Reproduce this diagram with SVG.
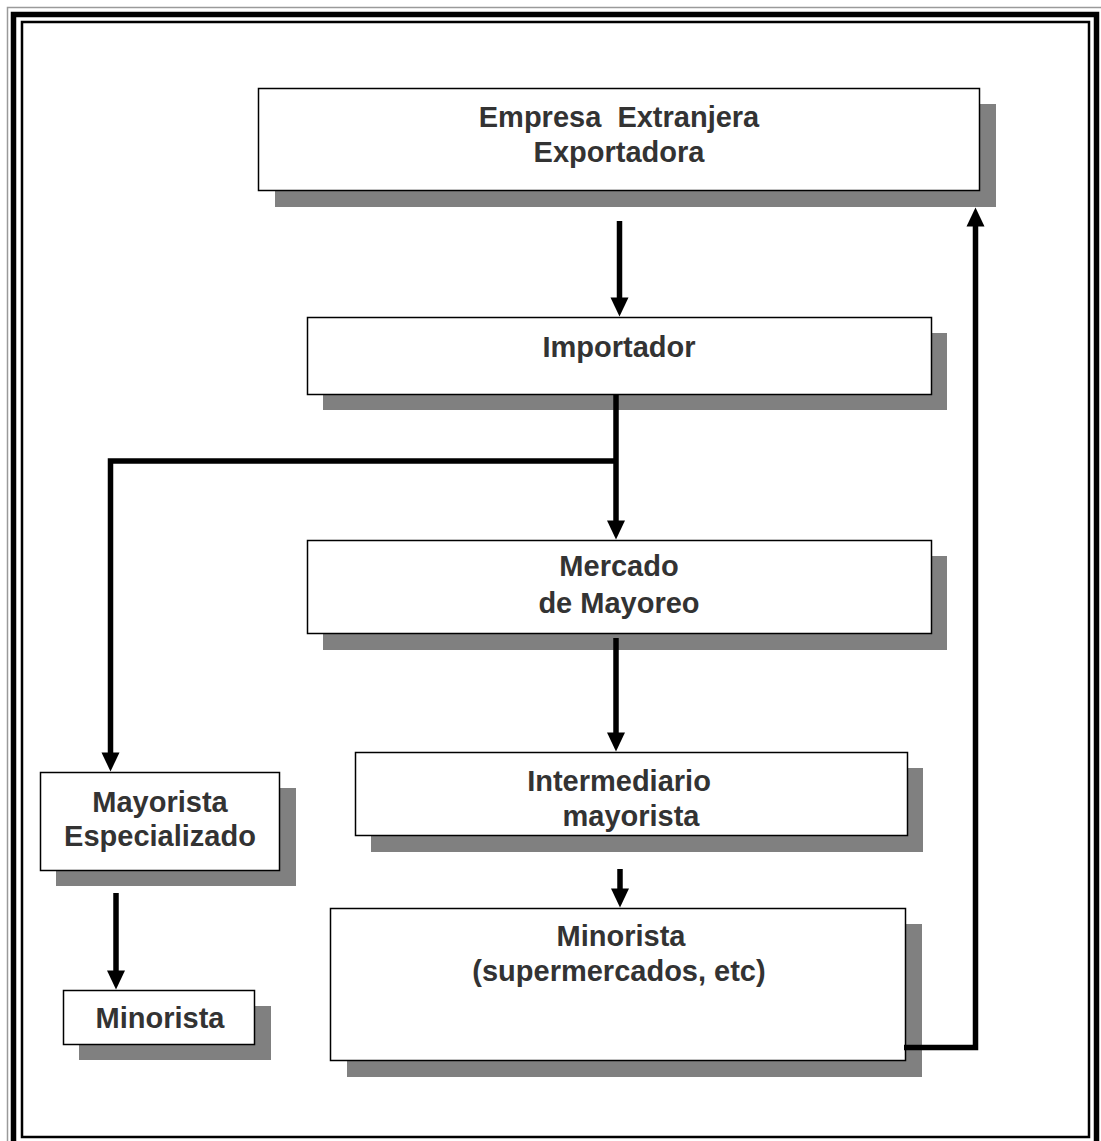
<svg xmlns="http://www.w3.org/2000/svg" width="1101" height="1141" viewBox="0 0 1101 1141">
  <style>
    .shadow { fill: #808080; }
    .box { fill: #ffffff; stroke: #000000; stroke-width: 1.5; }
    .label { font-family: "Liberation Sans", Arial, sans-serif; font-weight: bold; font-size: 29px; fill: #333333; text-anchor: middle; }
    .wire { fill: none; stroke: #000000; stroke-width: 5.5; }
  </style>
  <defs>
    <!-- solid triangular arrowhead; its base sits on the end of the path -->
    <marker id="head" viewBox="0 0 19 18" refX="0.5" refY="9" markerWidth="19" markerHeight="18" markerUnits="userSpaceOnUse" orient="auto" overflow="visible">
      <path d="M0,0 L19,9 L0,18 Z" fill="#000000"/>
    </marker>
  </defs>

  <rect x="0" y="0" width="1101" height="1141" fill="#ffffff"/>

  <!-- page frame: thin / thick / thin -->
  <g id="frame" fill="none">
    <rect x="7.5" y="7.5" width="1100" height="1140" stroke="#9a9a9a" stroke-width="1.5"/>
    <rect x="13.5" y="14.5" width="1083" height="1132" stroke="#000000" stroke-width="5.5"/>
    <rect x="22" y="22" width="1067" height="1115" stroke="#000000" stroke-width="2.5"/>
  </g>

  <g id="empresa">
    <rect class="shadow" x="275" y="104" width="721" height="103"/>
    <rect class="box" x="258.5" y="88.5" width="721" height="102"/>
    <text class="label" x="619" y="127" xml:space="preserve">Empresa  Extranjera</text>
    <text class="label" x="619" y="162">Exportadora</text>
  </g>

  <g id="importador">
    <rect class="shadow" x="323" y="333" width="624" height="77"/>
    <rect class="box" x="307.5" y="317.5" width="624" height="77"/>
    <text class="label" x="619" y="357">Importador</text>
  </g>

  <g id="mercado">
    <rect class="shadow" x="323" y="556" width="624" height="94"/>
    <rect class="box" x="307.5" y="540.5" width="624" height="93"/>
    <text class="label" x="619" y="576">Mercado</text>
    <text class="label" x="619" y="613">de Mayoreo</text>
  </g>

  <g id="intermediario">
    <rect class="shadow" x="371" y="768" width="552" height="84"/>
    <rect class="box" x="355.5" y="752.5" width="552" height="83"/>
    <text class="label" x="619" y="791">Intermediario</text>
    <text class="label" x="631" y="826">mayorista</text>
  </g>

  <g id="minorista-super">
    <rect class="shadow" x="347" y="924" width="575" height="153"/>
    <rect class="box" x="330.5" y="908.5" width="575" height="152"/>
    <text class="label" x="621" y="946">Minorista</text>
    <text class="label" x="619" y="981">(supermercados, etc)</text>
  </g>

  <g id="mayorista-esp">
    <rect class="shadow" x="56" y="788" width="240" height="98"/>
    <rect class="box" x="40.5" y="772.5" width="239" height="98"/>
    <text class="label" x="160" y="812">Mayorista</text>
    <text class="label" x="160" y="846">Especializado</text>
  </g>

  <g id="minorista">
    <rect class="shadow" x="79" y="1006" width="192" height="54"/>
    <rect class="box" x="63.5" y="990.5" width="191" height="54"/>
    <text class="label" x="160" y="1028">Minorista</text>
  </g>

  <g id="connectors">
    <path class="wire" d="M619.5,221 V298" marker-end="url(#head)"/>
    <path class="wire" d="M616,395 V521" marker-end="url(#head)"/>
    <path class="wire" d="M616,461 H110.5 V753" marker-end="url(#head)"/>
    <path class="wire" d="M616,638 V733" marker-end="url(#head)"/>
    <path class="wire" d="M620,869 V889" marker-end="url(#head)"/>
    <path class="wire" d="M116,893 V971" marker-end="url(#head)"/>
    <path class="wire" d="M904,1047.5 H975.5 V226" marker-end="url(#head)"/>
  </g>
</svg>
